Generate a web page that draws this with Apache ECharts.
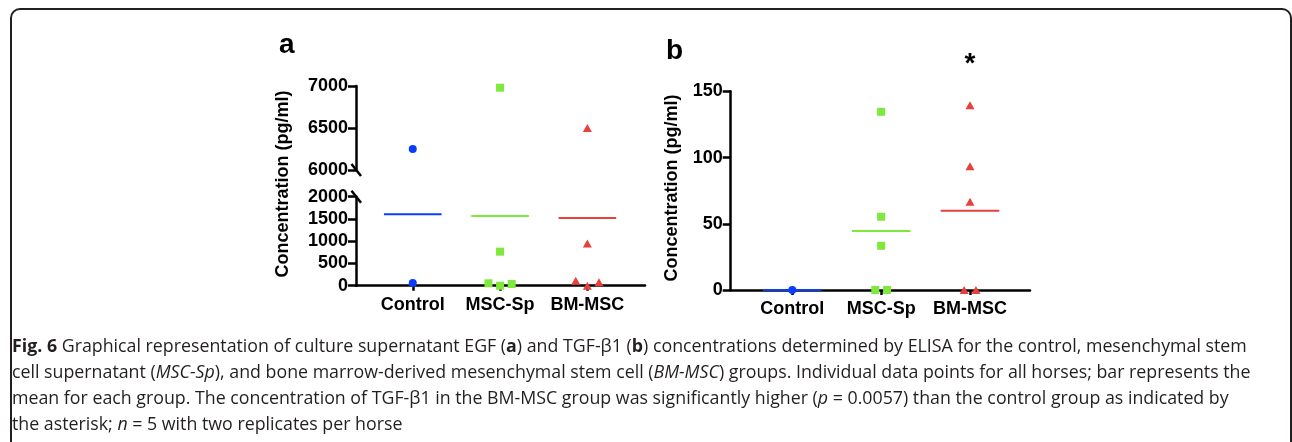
<!DOCTYPE html>
<html><head><meta charset="utf-8">
<script src="https://cdn.jsdelivr.net/npm/echarts@6/dist/echarts.min.js"></script>
<style>html,body{margin:0;padding:0;background:#fff}#c{width:1292px;height:442px}</style>
</head><body><div id="c"></div>
<script>
// ---------- data ----------
const categories = ['Control', 'MSC-Sp', 'BM-MSC'];
// Panel a: EGF (pg/ml)
const egfControl = [6250, 60];
const egfMscSp = [6980, 765, 54, 0, 38];
const egfBmMsc = [6500, 950, 112, 0, 76];
const egfMeans = [1605, 1565, 1520];
const egfLowerTicks = [0, 500, 1000, 1500, 2000];
const egfUpperTicks = [6000, 6500, 7000];
// Panel b: TGF-β1 (pg/ml)
const tgfControl = [0];
const tgfMscSp = [134.5, 55.3, 33.4, 0, 0];
const tgfBmMsc = [139.5, 93.5, 66.6, 0, 0];
const tgfMeans = [0, 44.6, 59.9];
const tgfTicks = [0, 50, 100, 150];

// ---------- style ----------
const colors = ['#0a3cff', '#7ee83c', '#e8413c'];
const symbols = ['circle', 'rect', 'triangle'];
const symbolSizes = [8, 8, [9, 8]];
const FONT = '"Liberation Sans", Arial, Helvetica, sans-serif';
const SLOT = 0.133, HALF = 0.33;

const chart = echarts.init(document.getElementById('c'), null, {renderer: 'canvas'});

const gA_up = {left: 356, top: 86, width: 289, height: 84};
const gA_lo = {left: 356, top: 196.7, width: 289, height: 89};
const gB = {left: 730.7, top: 91.3, width: 299.3, height: 198.7};
const xRangeA = [0.35, 3.66];
const xRangeB = [0.307, 3.675];

function swarm(values, toPx, slotPx, d) {
  const order = values.map((v, i) => i).sort((a, b) => values[a] - values[b]);
  const placed = [];
  for (const i of order) {
    const y = toPx(values[i]);
    for (const k of [0, 1, -1, 2, -2, 3, -3]) {
      const hit = placed.some(p => Math.abs(p.k - k) * slotPx < d && Math.abs(p.y - y) < d);
      if (!hit) { placed.push({i, y, k}); break; }
    }
  }
  placed.sort((a, b) => a.y - b.y);
  const ks = new Array(values.length).fill(0);
  let cl = [];
  const flush = () => {
    if (!cl.length) return;
    const m = cl.reduce((s, p) => s + p.k, 0) / cl.length;
    cl.forEach(p => ks[p.i] = p.k - m);
    cl = [];
  };
  placed.forEach((p, j) => {
    if (j > 0 && p.y - placed[j - 1].y >= d) flush();
    cl.push(p);
  });
  flush();
  return ks;
}

const axisLineStyle = {color: '#000', width: 2.5};
const labelStyle = {color: '#000', fontFamily: FONT, fontWeight: 'bold', fontSize: 18};

function yAx(grid, ticks) {
  return {
    type: 'value', gridIndex: grid,
    min: ticks[0], max: ticks[ticks.length - 1], interval: ticks[1] - ticks[0],
    axisLine: {show: true, lineStyle: axisLineStyle},
    axisTick: {show: true, length: 8, lineStyle: axisLineStyle},
    axisLabel: Object.assign({margin: 8, formatter: v => String(v)}, labelStyle),
    splitLine: {show: false}
  };
}
function xAx(grid, range, show) {
  return {
    type: 'value', gridIndex: grid, min: range[0], max: range[1],
    show: show,
    axisLine: {show: true, onZero: false, lineStyle: axisLineStyle},
    axisTick: {show: true, length: 5, customValues: [1, 2, 3], lineStyle: axisLineStyle},
    axisLabel: Object.assign({margin: 10, customValues: [1, 2, 3],
      formatter: v => categories[Math.round(v) - 1] || ''}, labelStyle),
    splitLine: {show: false}
  };
}

const series = [];
function addPanel(groups, means, lowIdx, highIdx, split, toPx, catPx) {
  groups.forEach((vals, g) => {
    const ks = swarm(vals, toPx, SLOT * catPx, 8);
    const low = [], high = [];
    vals.forEach((v, i) => {
      const pt = [g + 1 + ks[i] * SLOT, v];
      if (highIdx != null && v >= split) high.push(pt); else low.push(pt);
    });
    series.push({type: 'line', xAxisIndex: lowIdx, yAxisIndex: lowIdx,
      data: [[g + 1 - HALF, means[g]], [g + 1 + HALF, means[g]]],
      symbol: 'none', lineStyle: {color: colors[g], width: 2}, z: 3, silent: true});
    const base = {type: 'scatter', symbol: symbols[g], symbolSize: symbolSizes[g],
      itemStyle: {color: colors[g], opacity: 1}, clip: false, z: 4};
    series.push(Object.assign({xAxisIndex: lowIdx, yAxisIndex: lowIdx, data: low}, base));
    if (high.length) series.push(Object.assign({xAxisIndex: highIdx, yAxisIndex: highIdx, data: high}, base));
  });
}

const pxA = v => v >= 4000 ? 1000 + (v - 6000) * gA_up.height / 1000 : v * gA_lo.height / 2000;
const pxB = v => v * gB.height / 150;
addPanel([egfControl, egfMscSp, egfBmMsc], egfMeans, 1, 0, 4000, pxA,
  gA_lo.width / (xRangeA[1] - xRangeA[0]));
addPanel([tgfControl, tgfMscSp, tgfBmMsc], tgfMeans, 2, null, 0, pxB,
  gB.width / (xRangeB[1] - xRangeB[0]));

chart.setOption({
  animation: false,
  grid: [gA_up, gA_lo, gB],
  xAxis: [xAx(0, xRangeA, false), xAx(1, xRangeA, true), xAx(2, xRangeB, true)],
  yAxis: [yAx(0, egfUpperTicks), yAx(1, egfLowerTicks), yAx(2, tgfTicks)],
  series: series
});

// ---------- annotations ----------
const brk1 = chart.convertToPixel({gridIndex: 0}, [xRangeA[0], egfUpperTicks[0]]);
const brk2 = chart.convertToPixel({gridIndex: 1}, [xRangeA[0], egfLowerTicks[egfLowerTicks.length - 1]]);
const star = chart.convertToPixel({gridIndex: 2}, [3, tgfTicks[tgfTicks.length - 1]]);
const slash = (p, id) => ({type: 'line', id: id, shape: {x1: p[0] - 4.5, y1: p[1] - 6, x2: p[0] + 5, y2: p[1] + 6},
  style: {stroke: '#000', lineWidth: 2.5}});
const capFont = '"Open Sans", "Noto Sans", sans-serif';
const CAP = 17.8;
const capText =
  '{b|Fig. 6} Graphical representation of culture supernatant EGF ({b|a}) and TGF-β1 ({b|b}) concentrations determined by ELISA for the control, mesenchymal stem\n' +
  'cell supernatant ({i|MSC-Sp}), and bone marrow-derived mesenchymal stem cell ({i|BM-MSC}) groups. Individual data points for all horses; bar represents the\n' +
  'mean for each group. The concentration of TGF-β1 in the BM-MSC group was significantly higher ({i|p} = 0.0057) than the control group as indicated by\n' +
  'the asterisk; {i|n} = 5 with two replicates per horse';

chart.setOption({
  graphic: [
    {type: 'rect', id: 'frame', shape: {x: 11, y: 9, width: 1280, height: 520, r: 9},
      style: {fill: 'none', stroke: '#231f20', lineWidth: 2}},
    {type: 'text', id: 'la', x: 279, y: 45, style: {text: 'a', font: 'bold 28px ' + FONT, fill: '#000', verticalAlign: 'middle'}},
    {type: 'text', id: 'lb', x: 666, y: 51, style: {text: 'b', font: 'bold 28px ' + FONT, fill: '#000', verticalAlign: 'middle'}},
    {type: 'text', id: 'ya', x: 283, y: 184, rotation: Math.PI / 2,
      style: {text: 'Concentration (pg/ml)', font: 'bold 18px ' + FONT, fill: '#000', align: 'center', verticalAlign: 'middle'}},
    {type: 'text', id: 'yb', x: 672, y: 188, rotation: Math.PI / 2,
      style: {text: 'Concentration (pg/ml)', font: 'bold 18px ' + FONT, fill: '#000', align: 'center', verticalAlign: 'middle'}},
    {type: 'text', id: 'star', x: star[0], y: 64, style: {text: '*', font: 'bold 28px ' + FONT, fill: '#000', align: 'center', verticalAlign: 'middle'}},
    slash(brk1, 's1'), slash(brk2, 's2'),
    {type: 'text', id: 'cap', x: 12, y: 334, style: {
      text: capText, fill: '#231f20', fontFamily: capFont, fontSize: CAP, lineHeight: 26, verticalAlign: 'top',
      rich: {
        b: {fontFamily: capFont, fontSize: CAP, fontWeight: 'bold', fill: '#231f20', lineHeight: 26},
        i: {fontFamily: capFont, fontSize: CAP, fontStyle: 'italic', fill: '#231f20', lineHeight: 26}
      }}}
  ]
});
</script></body></html>
